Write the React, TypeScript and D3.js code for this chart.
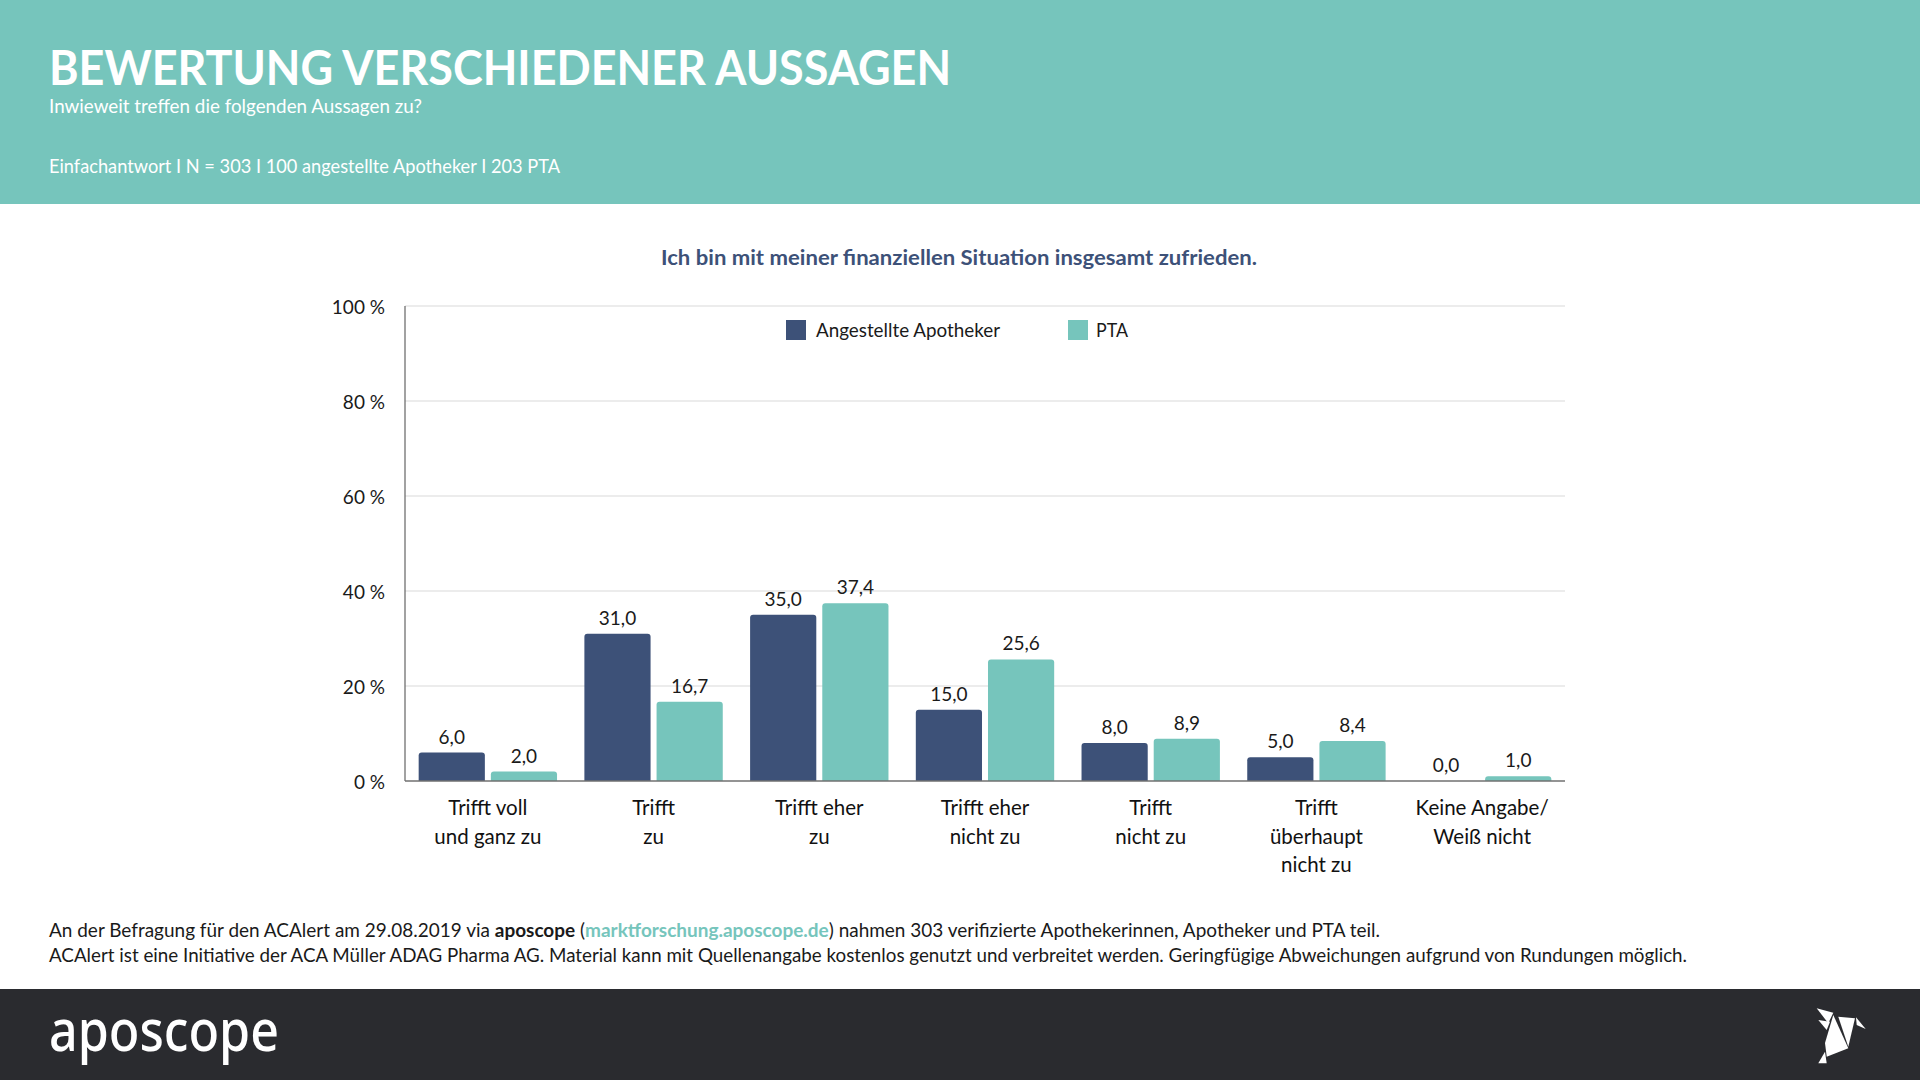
import { useRef, useEffect } from "react";
import * as d3 from "d3";

const categories = [
  "Trifft voll\nund ganz zu",
  "Trifft\nzu",
  "Trifft eher\nzu",
  "Trifft eher\nnicht zu",
  "Trifft\nnicht zu",
  "Trifft\nüberhaupt\nnicht zu",
  "Keine Angabe/\nWeiß nicht",
];
const apothekerValues = [6.0, 31.0, 35.0, 15.0, 8.0, 5.0, 0.0];
const ptaValues = [2.0, 16.7, 37.4, 25.6, 8.9, 8.4, 1.0];
const seriesLabels = ["Angestellte Apotheker", "PTA"];
const yTicks = [0, 20, 40, 60, 80, 100];

const W = 1920;
const H = 1080;
const TEAL = "#76C5BC";
const NAVY = "#3D5178";
const FONT = "Lato, 'Open Sans', sans-serif";

export default function App() {
  const svgRef = useRef<SVGSVGElement>(null);

  useEffect(() => {
    if (!svgRef.current) return;
    const svg = d3.select(svgRef.current);
    svg.selectAll("*").remove();
    svg.attr("width", W).attr("height", H).style("font-family", FONT);

    // header band
    svg.append("rect").attr("width", W).attr("height", 204).attr("fill", TEAL);
    svg.append("text")
      .attr("x", 49).attr("y", 85)
      .attr("fill", "#fff").style("font-size", "48px").style("font-weight", 700)
      .attr("textLength", 902).attr("lengthAdjust", "spacingAndGlyphs")
      .text("BEWERTUNG VERSCHIEDENER AUSSAGEN");
    svg.append("text")
      .attr("x", 49).attr("y", 113)
      .attr("fill", "#fff").style("font-size", "18.5px")
      .attr("textLength", 373).attr("lengthAdjust", "spacingAndGlyphs")
      .text("Inwieweit treffen die folgenden Aussagen zu?");
    svg.append("text")
      .attr("x", 49).attr("y", 173)
      .attr("fill", "#fff").style("font-size", "19px")
      .attr("textLength", 511).attr("lengthAdjust", "spacingAndGlyphs")
      .text("Einfachantwort I N = 303 I 100 angestellte Apotheker I 203 PTA");

    // chart title
    svg.append("text")
      .attr("x", 959).attr("y", 265).attr("text-anchor", "middle")
      .attr("fill", NAVY).style("font-size", "20px").style("font-weight", 700)
      .attr("textLength", 596).attr("lengthAdjust", "spacingAndGlyphs")
      .text("Ich bin mit meiner finanziellen Situation insgesamt zufrieden.");

    const margin = { left: 405, right: 1565, top: 306, bottom: 781 };

    const x0 = d3.scaleBand<string>()
      .domain(categories)
      .range([margin.left, margin.right])
      .paddingInner(0.165)
      .paddingOuter(0.0825);
    const x1 = d3.scaleBand<string>()
      .domain(seriesLabels)
      .range([0, x0.bandwidth()])
      .paddingInner(0.083);
    const y = d3.scaleLinear().domain([0, 100]).range([margin.bottom, margin.top]);

    // grid
    svg.append("g")
      .selectAll("line")
      .data(yTicks.filter((t) => t > 0))
      .join("line")
      .attr("x1", margin.left).attr("x2", margin.right)
      .attr("y1", (d) => y(d)).attr("y2", (d) => y(d))
      .attr("stroke", "#D9D9D9").attr("stroke-width", 1.2);

    // y labels
    svg.append("g")
      .selectAll("text")
      .data(yTicks)
      .join("text")
      .attr("x", 385).attr("y", (d) => y(d) + 8)
      .attr("text-anchor", "end")
      .attr("fill", "#1a1a1a").style("font-size", "19px")
      .text((d) => `${d} %`);

    // bars, rounded top corners
    const rounded = (x: number, yTop: number, w: number, h: number, r: number) => {
      if (h <= 0) return "";
      const rr = Math.min(r, h, w / 2);
      return `M${x},${yTop + h}V${yTop + rr}Q${x},${yTop} ${x + rr},${yTop}H${x + w - rr}Q${x + w},${yTop} ${x + w},${yTop + rr}V${yTop + h}Z`;
    };

    const seriesData = [
      { label: seriesLabels[0], values: apothekerValues, color: NAVY },
      { label: seriesLabels[1], values: ptaValues, color: TEAL },
    ];
    const fmt = (v: number) => d3.format(".1f")(v).replace(".", ",");

    seriesData.forEach((s) => {
      const g = svg.append("g");
      g.selectAll("path")
        .data(s.values)
        .join("path")
        .attr("d", (v, i) => {
          const bx = (x0(categories[i]) || 0) + (x1(s.label) || 0);
          return rounded(bx, y(v), x1.bandwidth(), margin.bottom - y(v), 3);
        })
        .attr("fill", s.color);
      g.selectAll("text")
        .data(s.values)
        .join("text")
        .attr("x", (_, i) => (x0(categories[i]) || 0) + (x1(s.label) || 0) + x1.bandwidth() / 2)
        .attr("y", (v) => y(v) - 9)
        .attr("text-anchor", "middle")
        .attr("fill", "#1a1a1a").style("font-size", "19px")
        .text((v) => fmt(v));
    });

    // axes lines
    svg.append("line")
      .attr("x1", margin.left).attr("x2", margin.left)
      .attr("y1", margin.top).attr("y2", margin.bottom)
      .attr("stroke", "#707070").attr("stroke-width", 1.3);
    svg.append("line")
      .attr("x1", margin.left).attr("x2", margin.right)
      .attr("y1", margin.bottom).attr("y2", margin.bottom)
      .attr("stroke", "#707070").attr("stroke-width", 1.3);

    // x labels
    const xl = svg.append("g")
      .selectAll("text")
      .data(categories)
      .join("text")
      .attr("text-anchor", "middle")
      .attr("fill", "#111").style("font-size", "20.5px");
    xl.each(function (d) {
      const t = d3.select(this);
      const cx = (x0(d) || 0) + x0.bandwidth() / 2;
      d.split("\n").forEach((line, j) => {
        t.append("tspan").attr("x", cx).attr("y", 815 + j * 28.5).text(line);
      });
    });

    // legend
    const legendPos = [
      { sx: 786, tx: 816, len: 184 },
      { sx: 1068, tx: 1096, len: 32 },
    ];
    seriesData.forEach((s, i) => {
      svg.append("rect")
        .attr("x", legendPos[i].sx).attr("y", 320)
        .attr("width", 20).attr("height", 20)
        .attr("fill", s.color);
      svg.append("text")
        .attr("x", legendPos[i].tx).attr("y", 337)
        .attr("fill", "#1a1a1a").style("font-size", "19.5px")
        .attr("textLength", legendPos[i].len).attr("lengthAdjust", "spacingAndGlyphs")
        .text(s.label);
    });

    // footnote
    const f1 = svg.append("text")
      .attr("x", 49).attr("y", 937)
      .attr("fill", "#1a1a1a").style("font-size", "18.5px")
      .attr("textLength", 1331).attr("lengthAdjust", "spacingAndGlyphs");
    f1.append("tspan").text("An der Befragung für den ACAlert am 29.08.2019 via ");
    f1.append("tspan").style("font-weight", 700).text("aposcope");
    f1.append("tspan").text(" (");
    f1.append("tspan").style("font-weight", 700).attr("fill", TEAL).text("marktforschung.aposcope.de");
    f1.append("tspan").text(") nahmen 303 verifizierte Apothekerinnen, Apotheker und PTA teil.");
    svg.append("text")
      .attr("x", 49).attr("y", 962)
      .attr("fill", "#1a1a1a").style("font-size", "18.5px")
      .attr("textLength", 1638).attr("lengthAdjust", "spacingAndGlyphs")
      .text("ACAlert ist eine Initiative der ACA Müller ADAG Pharma AG. Material kann mit Quellenangabe kostenlos genutzt und verbreitet werden. Geringfügige Abweichungen aufgrund von Rundungen möglich.");

    // footer band
    svg.append("rect").attr("y", 989).attr("width", W).attr("height", H - 989).attr("fill", "#2A2B2F");
    svg.append("text")
      .attr("x", 49).attr("y", 1051)
      .attr("fill", "#fff").style("font-size", "58px").style("font-weight", 500)
      .style("font-family", "'Noto Sans', sans-serif")
      .attr("textLength", 230).attr("lengthAdjust", "spacingAndGlyphs")
      .text("aposcope");

    // bird logo
    const bird = [
      [[1816.7, 1008.3], [1833.3, 1012.7], [1828.3, 1023.3]],
      [[1818.3, 1020], [1830, 1021.7], [1826.7, 1030]],
      [[1833.3, 1015], [1848.3, 1048.3], [1826.7, 1056.7], [1825, 1043]],
      [[1838.3, 1016.7], [1855, 1018.3], [1848.3, 1046.7]],
      [[1856, 1017.3], [1865.7, 1029], [1856.7, 1025]],
      [[1825, 1051.7], [1826.7, 1063.3], [1818.3, 1063.3]],
    ];
    svg.append("g")
      .selectAll("polygon")
      .data(bird)
      .join("polygon")
      .attr("points", (d) => d.map((p) => p.join(",")).join(" "))
      .attr("fill", "#fff");
  }, []);

  return (
    <div style={{ position: "absolute", left: 0, top: 0, width: W, height: H, background: "#fff" }}>
      <svg ref={svgRef} style={{ display: "block" }} />
    </div>
  );
}
